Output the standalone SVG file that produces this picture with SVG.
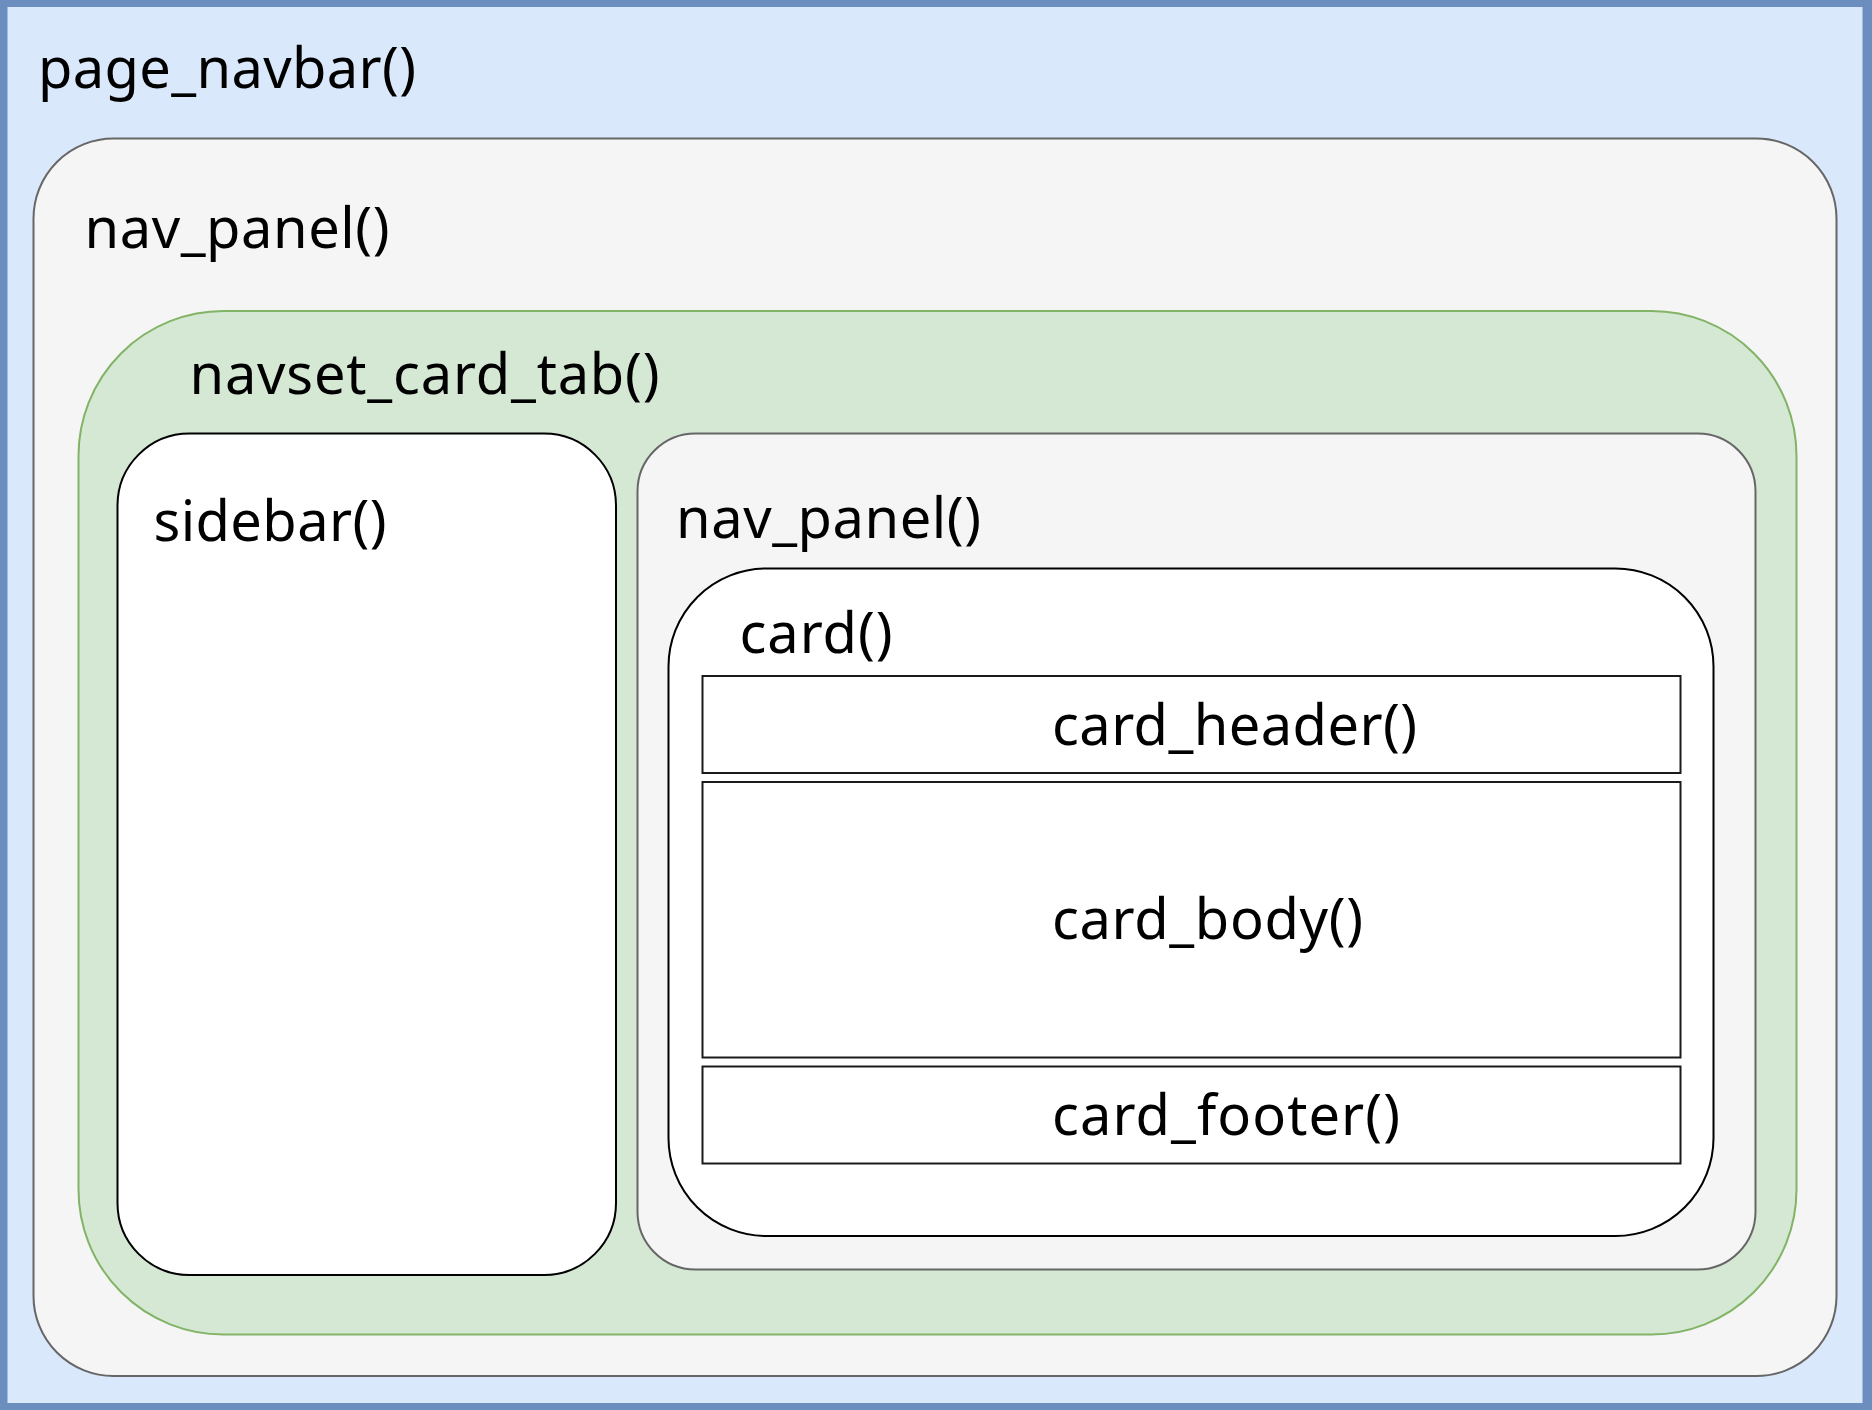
<svg xmlns="http://www.w3.org/2000/svg" width="1872" height="1410" viewBox="0 0 1872 1410">
  <style>
    .lbl { font-family: "Noto Sans", "Open Sans", sans-serif; font-size: 56px; fill: #000000; }
    .gray { fill: #f5f5f5; stroke: #666666; stroke-width: 2; }
    .green { fill: #d5e8d4; stroke: #82b366; stroke-width: 2; }
    .white { fill: #ffffff; stroke: #000000; stroke-width: 2; }
    .part { fill: #ffffff; stroke: #1a1a1a; stroke-width: 2; }
  </style>
  <g id="page_navbar">
    <rect x="0" y="0" width="1872" height="1410" fill="#6c8ebf"/>
    <rect x="7.5" y="7" width="1855" height="1396" fill="#dae8fc"/>
    <text class="lbl" x="38" y="88" textLength="378" lengthAdjust="spacing">page_navbar()</text>
  </g>
  <g id="nav_panel_outer">
    <rect class="gray" x="33.5" y="138.5" width="1803" height="1237.5" rx="80" ry="80"/>
    <text class="lbl" x="84.5" y="248" textLength="305" lengthAdjust="spacing">nav_panel()</text>
  </g>
  <g id="navset_card_tab">
    <rect class="green" x="78.5" y="311" width="1718" height="1023.5" rx="145" ry="145"/>
    <text class="lbl" x="189.5" y="394" textLength="470" lengthAdjust="spacing">navset_card_tab()</text>
  </g>
  <g id="sidebar">
    <rect class="white" x="117.5" y="433.5" width="498.5" height="841.5" rx="72" ry="72"/>
    <text class="lbl" x="153.5" y="540.5" textLength="233" lengthAdjust="spacing">sidebar()</text>
  </g>
  <g id="nav_panel_inner">
    <rect class="gray" x="637.5" y="433.5" width="1118" height="836" rx="58" ry="58"/>
    <text class="lbl" x="676" y="538" textLength="305" lengthAdjust="spacing">nav_panel()</text>
  </g>
  <g id="card">
    <rect class="white" x="668.5" y="568.5" width="1045" height="667.5" rx="98" ry="98"/>
    <text class="lbl" x="739.5" y="653" textLength="153" lengthAdjust="spacing">card()</text>
  </g>
  <g id="card_header">
    <rect class="part" x="702.5" y="676" width="978" height="97"/>
    <text class="lbl" x="1052" y="745" textLength="365" lengthAdjust="spacing">card_header()</text>
  </g>
  <g id="card_body">
    <rect class="part" x="702.5" y="782" width="978" height="275.5"/>
    <text class="lbl" x="1052" y="939" textLength="311" lengthAdjust="spacing">card_body()</text>
  </g>
  <g id="card_footer">
    <rect class="part" x="702.5" y="1066.5" width="978" height="97"/>
    <text class="lbl" x="1052" y="1135" textLength="348" lengthAdjust="spacing">card_footer()</text>
  </g>
  <g id="connectors"/>
</svg>
